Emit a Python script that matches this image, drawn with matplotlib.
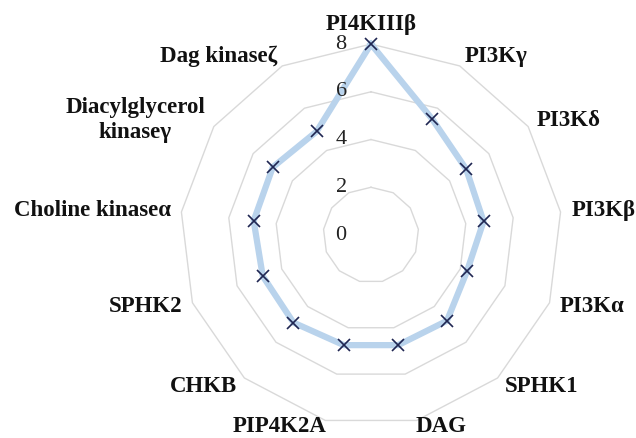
# Importamos librerias
import numpy as np
import matplotlib.pyplot as plt

# Datos del grafico
categorias = ["PI4KIIIβ", "PI3Kγ", "PI3Kδ", "PI3Kβ", "PI3Kα", "SPHK1", "DAG",
              "PIP4K2A", "CHKB", "SPHK2", "Choline kinaseα",
              "Diacylglycerol\nkinaseγ", "Dag kinaseζ"]
valores = [8.0, 5.5, 4.85, 4.75, 4.3, 4.8, 4.75, 4.75, 4.9, 4.85, 4.95, 5.0, 4.9]
niveles = [2, 4, 6, 8]
etiquetas_nivel = ["0", "2", "4", "6", "8"]

# Angulos de cada categoria
n = len(categorias)
angulos = np.arange(n) * 2 * np.pi / n
angulos_cerrado = np.append(angulos, angulos[0])

fig = plt.figure(figsize=(6.36, 4.38), dpi=100)
ax = fig.add_axes([0.283, 0.0274, 0.6006, 0.872], projection="polar")
ax.set_theta_zero_location("N")
ax.set_theta_direction(-1)
ax.set_ylim(0, 8)
ax.axis("off")

# Anillos poligonales
for nivel in niveles:
    ax.plot(angulos_cerrado, [nivel] * (n + 1), color="#D9D9D9", lw=1.0,
            zorder=1, clip_on=False)

# Serie de datos
vals_cerrado = valores + [valores[0]]
ax.plot(angulos_cerrado, vals_cerrado, color="#B9D3EC", lw=4.5, zorder=2,
        clip_on=False, solid_joinstyle="round")
ax.plot(angulos, valores, ls="none", marker="x", ms=9, mew=1.2,
        color="#1F2652", zorder=3, clip_on=False)

# Etiquetas de los niveles
for i, txt in enumerate(etiquetas_nivel):
    ax.annotate(txt, xy=(0, i * 2), xytext=(-21.5, 0), textcoords="offset points",
                ha="center", va="center", fontsize=16, family="Liberation Serif",
                color="#222222")

# Etiquetas de las categorias
for ang, cat in zip(angulos, categorias):
    s = np.sin(ang)
    c = np.cos(ang)
    if s > 0.05:
        ha = "left"
    elif s < -0.05:
        ha = "right"
    else:
        ha = "center"
    va = "center"
    r = 8.45
    if abs(ang) < 1e-6:
        va = "bottom"
        r = 8.4
    elif c < -0.9:
        va = "top"
        r = 7.8
    ax.text(ang, r, cat, ha=ha, va=va, multialignment="center",
            fontsize=16.5, fontweight="bold", family="Liberation Serif",
            color="#111111", linespacing=1.25)

fig.savefig("out.png", dpi=100)
